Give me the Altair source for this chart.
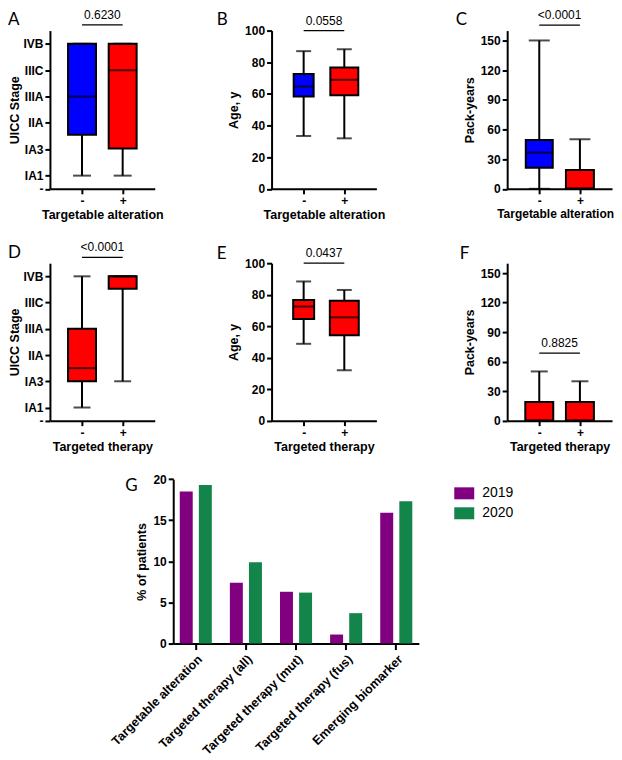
import altair as alt
import pandas as pd

FONT = "Liberation Sans"
LETTER_FONT = "Lato"
BLUE = "#0000ff"
RED = "#ff0000"
PURPLE = "#800080"
GREEN = "#14854a"

GROUPS = ["-", "+"]
STAGE_LABELS = ["-", "IA1", "IA3", "IIA", "IIIA", "IIIC", "IVB"]
STAGE_VALUES = [0.5, 1, 2, 3, 4, 5, 6]
AGE_TICKS = [0, 20, 40, 60, 80, 100]
PACK_TICKS = [0, 30, 60, 90, 120, 150]

# five-number summaries per group: [min, q1, median, q3, max]
stage_by_alteration = {"-": [1, 2.55, 4, 6, 6], "+": [1, 2.03, 5, 6, 6]}
age_by_alteration = {"-": [33.4, 58.4, 64.7, 72.5, 87], "+": [31.9, 59.2, 68.9, 76.7, 88.2]}
pack_by_alteration = {"-": [0, 21.2, 36.6, 49.4, 150], "+": [0, 0, 0, 19, 50]}
stage_by_therapy = {"-": [1, 2, 2.5, 4, 6], "+": [2, 5.53, 6, 6, 6]}
age_by_therapy = {"-": [48.8, 64.5, 72.5, 76.7, 88.4], "+": [32, 54.3, 65.6, 76.1, 83]}
pack_by_therapy = {"-": [0, 0, 0, 19, 50], "+": [0, 0, 0, 19, 40]}

P_VALUES = ["0.6230", "0.0558", "<0.0001", "<0.0001", "0.0437", "0.8825"]
P_LEVELS = [6.72, 100, 165.5, 6.72, 100, 68.7]

MEASURES = ["Targetable alteration", "Targeted therapy (all)", "Targeted therapy (mut)",
            "Targeted therapy (fus)", "Emerging biomarker"]
YEARS = ["2019", "2020"]
PCT_2019 = [18.5, 7.4, 6.3, 1.1, 15.9]
PCT_2020 = [19.3, 9.9, 6.2, 3.7, 17.3]


def list_expr(items, quote):
    if quote:
        return "[" + ",".join("'" + s + "'" for s in items) + "]"
    return "[" + ",".join(str(v) for v in items) + "]"


def box_panel(letter, stats, colors, box_w, cap_w, ydom, yticks, ylabels, ytitle, xtitle,
              pval, pval_y, width, height, top, letter_x, letter_y, title_pad, xtitle_x=52.5,
              xtitle_size=12.5):
    df = pd.DataFrame({
        "group": GROUPS,
        "pos": [1, 2],
        "lo": [stats[g][0] for g in GROUPS],
        "q1": [stats[g][1] for g in GROUPS],
        "med": [stats[g][2] for g in GROUPS],
        "q3": [stats[g][3] for g in GROUPS],
        "hi": [stats[g][4] for g in GROUPS],
        "fillc": colors,
    })
    xs = alt.Scale(domain=[1 / 3, 8 / 3], range=[0, 105], nice=False, zero=False)
    ys = alt.Scale(domain=ydom, range=[height, top], nice=False, zero=False)
    xaxis = alt.Axis(values=[1, 2], labelExpr=list_expr(GROUPS, True) + "[datum.value - 1]",
                     title=xtitle, labelAngle=0, labelAlign="center", labelPadding=2,
                     titlePadding=2, labelFlush=False, labelOverlap=False, titleX=xtitle_x,
                     titleFontSize=xtitle_size)
    if ylabels is not None:
        ylab = list_expr(ylabels, True) + "[indexof(" + list_expr(yticks, False) + ", datum.value)]"
    else:
        ylab = "datum.label"
    yaxis = alt.Axis(values=yticks, labelExpr=ylab, title=ytitle, titlePadding=title_pad,
                     labelOverlap=False, labelFlush=False, labelPadding=2)

    def X(f):
        return alt.X(f, type="quantitative", scale=xs, axis=xaxis)

    def Y(f):
        return alt.Y(f, type="quantitative", scale=ys, axis=yaxis)

    base = alt.Chart(df)
    layers = [base.mark_rule(color="black", strokeWidth=2).encode(x=X("pos"), y=Y("lo"), y2="hi")]
    for i, g in enumerate(GROUPS):
        sub = base.transform_filter(alt.datum.group == g)
        layers.append(sub.mark_bar(size=box_w[i], stroke="black", strokeWidth=2).encode(
            x=X("pos"), y=Y("q1"), y2="q3", fill=alt.Fill("fillc:N", scale=None)))
        layers.append(sub.mark_tick(orient="horizontal", size=box_w[i], thickness=2, color="black").encode(
            x=X("pos"), y=Y("med")))
    for f in ["lo", "hi"]:
        layers.append(base.mark_tick(orient="horizontal", size=cap_w, thickness=2, color="black").encode(
            x=X("pos"), y=Y(f)))
    bdf = pd.DataFrame({"x1": [1], "x2": [2], "xm": [1.5], "y": [pval_y], "label": [pval]})
    br = alt.Chart(bdf)
    layers.append(br.mark_rule(color="black", strokeWidth=1.3).encode(x=X("x1"), x2="x2", y=Y("y")))
    layers.append(br.mark_text(font=FONT, fontSize=12, baseline="alphabetic", dy=-6, color="black").encode(
        x=X("xm"), y=Y("y"), text="label:N"))
    ldf = pd.DataFrame({"letter": [letter]})
    layers.append(alt.Chart(ldf).mark_text(font=LETTER_FONT, fontSize=17, align="left",
                                           baseline="alphabetic", color="black").encode(
        x=alt.value(letter_x), y=alt.value(letter_y), text="letter:N"))
    return alt.layer(*layers).properties(width=width, height=height)


H1 = 158.5
H2 = 221.7
TOP2 = 64
H3 = 213
TOP3 = 48.3
W1 = 211.5
W2 = 225.5
W3 = 105

A = box_panel("A", stage_by_alteration, [BLUE, RED], [28, 28], 18, [0.5, 6.5], STAGE_VALUES, STAGE_LABELS,
              "UICC Stage", "Targetable alteration", P_VALUES[0], P_LEVELS[0], W1, H1, 0, -42, -5.5, 1)
B = box_panel("B", age_by_alteration, [BLUE, RED], [20, 28], 15, [0, 100], AGE_TICKS, None,
              "Age, y", "Targetable alteration", P_VALUES[1], P_LEVELS[1], W2, H1, 0, -55, -5.5, 4)
C = box_panel("C", pack_by_alteration, [BLUE, RED], [27, 28], 21, [0, 160], PACK_TICKS, None,
              "Pack-years", "Targetable alteration", P_VALUES[2], P_LEVELS[2], W3, H1, 0, -51.5, -5.5, 4,
              xtitle_x=48, xtitle_size=12)
D = box_panel("D", stage_by_therapy, [RED, RED], [28, 28], 17, [0.5, 6.5], STAGE_VALUES, STAGE_LABELS,
              "UICC Stage", "Targeted therapy", P_VALUES[3], P_LEVELS[3], W1, H2, TOP2, -42, 59, 1)
E = box_panel("E", age_by_therapy, [RED, RED], [21, 29], 15, [0, 100], AGE_TICKS, None,
              "Age, y", "Targeted therapy", P_VALUES[4], P_LEVELS[4], W2, H2, TOP2, -55, 60, 4)
F = box_panel("F", pack_by_therapy, [RED, RED], [28, 28], 17, [0, 160], PACK_TICKS, None,
              "Pack-years", "Targeted therapy", P_VALUES[5], P_LEVELS[5], W3, H2, TOP2, -47.5, 60, 4)

gdf = pd.DataFrame({
    "measure": MEASURES * 2,
    "year": [YEARS[0]] * len(MEASURES) + [YEARS[1]] * len(MEASURES),
    "pct": PCT_2019 + PCT_2020,
})
gbars = alt.Chart(gdf).mark_bar().encode(
    x=alt.X("measure:N", sort=MEASURES,
            scale=alt.Scale(range=[123.5, 369.5], paddingInner=0.2, paddingOuter=0.05),
            axis=alt.Axis(title=None, labelAngle=-45, labelAlign="right", labelBaseline="top",
                          labelPadding=3, tickSize=6, labelFontSize=12.5, labelOverlap=False)),
    xOffset=alt.XOffset("year:N", sort=YEARS, scale=alt.Scale(paddingInner=0.32, paddingOuter=0.21)),
    y=alt.Y("pct:Q", scale=alt.Scale(domain=[0, 20], range=[H3, TOP3], nice=False),
            axis=alt.Axis(values=[0, 5, 10, 15, 20], title="% of patients", offset=-123.5,
                          titlePadding=4, labelPadding=2)),
    color=alt.Color("year:N", scale=alt.Scale(domain=YEARS, range=[PURPLE, GREEN]),
                    legend=alt.Legend(orient="none", legendX=405, legendY=453.5, title=None,
                                      symbolType="M-1,-0.6H1V0.6H-1Z", symbolSize=400,
                                      symbolStrokeWidth=0, labelFont=FONT, labelFontSize=14,
                                      labelColor="black", labelOffset=8, rowPadding=3)),
)
gletter = alt.Chart(pd.DataFrame({"letter": ["G"]})).mark_text(
    font=LETTER_FONT, fontSize=17, align="left", baseline="alphabetic", color="black").encode(
    x=alt.value(75.5), y=alt.value(60.3), text="letter:N")
G = alt.layer(gbars, gletter).properties(width=W1, height=H3)

chart = alt.concat(A, B, C, D, E, F, G, columns=3, spacing=10, bounds="flush", align="none").properties(
    padding={"left": 0, "top": 0, "right": 0, "bottom": 0}
).configure_view(stroke=None).configure_axis(
    domainColor="black", domainWidth=2, tickColor="black", tickWidth=2, tickSize=5,
    labelColor="black", titleColor="black", labelFont=FONT, titleFont=FONT,
    labelFontSize=12, labelFontWeight="bold", titleFontSize=12.5, titleFontWeight="bold", grid=False,
)

chart.save("out.html", embed_options={"renderer": "svg", "actions": False})
